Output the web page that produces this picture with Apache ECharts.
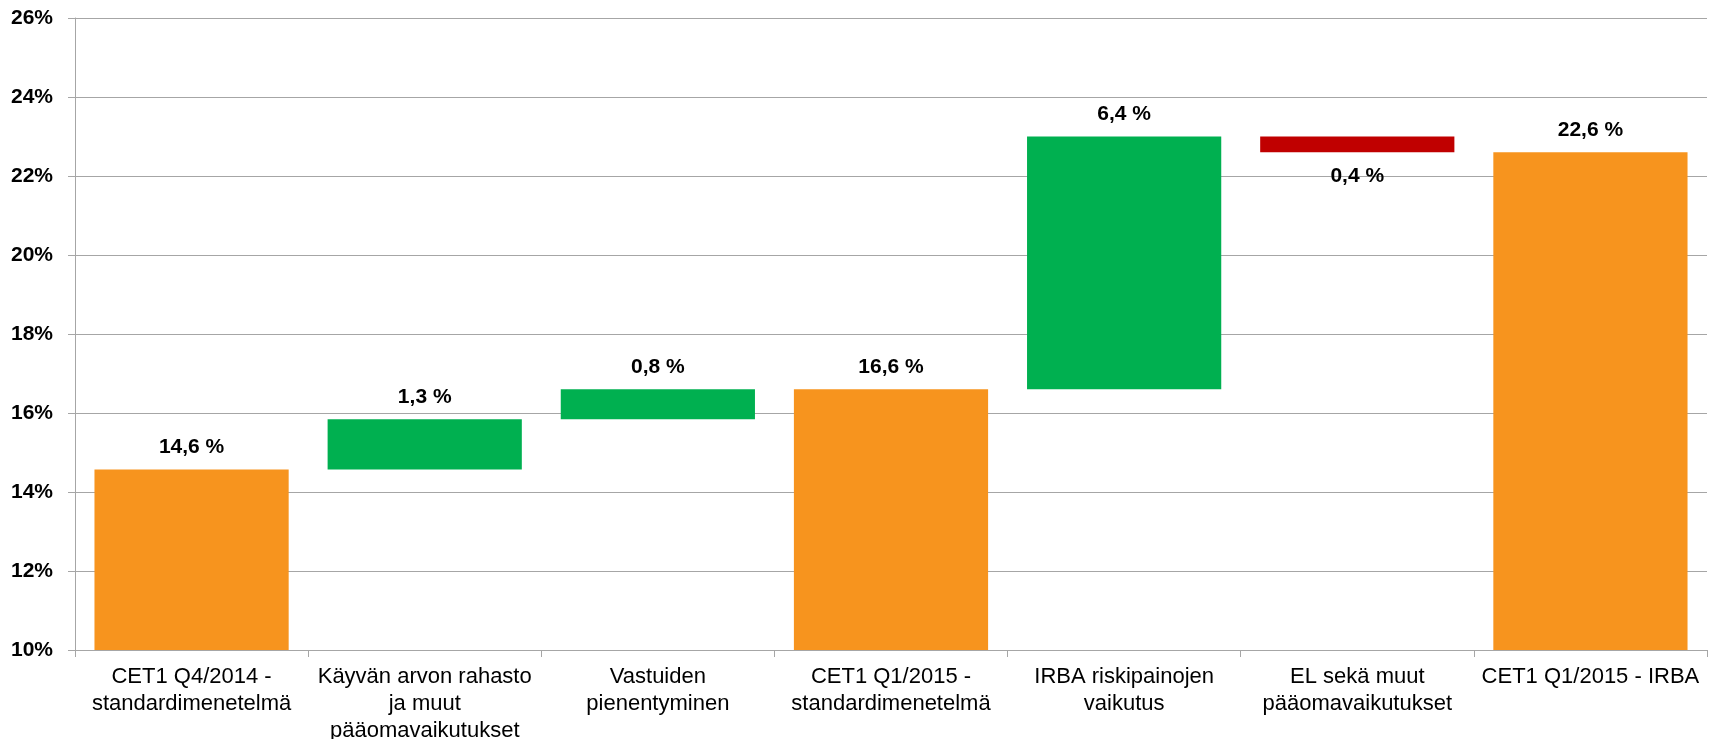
<!DOCTYPE html>
<html>
<head>
<meta charset="utf-8">
<script src="https://cdn.jsdelivr.net/npm/echarts@6/dist/echarts.min.js"></script>
<style>
  html, body { margin: 0; padding: 0; background: #fff; }
  #chart { width: 1713px; height: 739px; }
</style>
</head>
<body>
<div id="chart"></div>
<script>
const categories = [
  'CET1 Q4/2014 -\nstandardimenetelmä',
  'Käyvän arvon rahasto\nja muut\npääomavaikutukset',
  'Vastuiden\npienentyminen',
  'CET1 Q1/2015 -\nstandardimenetelmä',
  'IRBA riskipainojen\nvaikutus',
  'EL sekä muut\npääomavaikutukset',
  'CET1 Q1/2015 - IRBA'
]
// invisible offset under each bar, and the visible bar height
const bases = [0, 14.57, 15.84, 0, 16.6, 22.6, 0]
const heights = [14.57, 1.27, 0.76, 16.6, 6.4, 0.4, 22.6]
const colors = ['#F7941E', '#00B050', '#00B050', '#F7941E', '#00B050', '#C00000', '#F7941E']
const yTicks = { min: 10, max: 26, interval: 2 }

const chart = echarts.init(document.getElementById('chart'))
const font = 'Liberation Sans, Arial, sans-serif'

const option = {
  animation: false,
  grid: { left: 75, right: 6, top: 18, bottom: 89, outerBoundsMode: 'none' },
  xAxis: {
    type: 'category',
    data: categories,
    axisLine: { lineStyle: { color: '#A6A6A6', width: 1 } },
    axisTick: { show: true, length: 7, lineStyle: { color: '#A6A6A6' } },
    axisLabel: {
      interval: 0,
      margin: 13,
      color: '#000',
      fontFamily: font,
      fontSize: 22,
      lineHeight: 27
    }
  },
  yAxis: {
    type: 'value',
    min: yTicks.min,
    max: yTicks.max,
    interval: yTicks.interval,
    axisLine: { show: true, lineStyle: { color: '#A6A6A6' } },
    axisTick: { show: true, length: 7, lineStyle: { color: '#A6A6A6' } },
    splitLine: { lineStyle: { color: '#A6A6A6' } },
    axisLabel: {
      formatter: '{value}%',
      margin: 22,
      color: '#000',
      fontFamily: font,
      fontWeight: 'bold',
      fontSize: 21
    }
  },
  series: [
    {
      type: 'bar',
      stack: 'w',
      silent: true,
      itemStyle: { color: 'transparent' },
      data: bases
    },
    {
      type: 'bar',
      stack: 'w',
      barCategoryGap: '16.7%',
      data: heights.map((v, i) => ({
        value: v,
        itemStyle: { color: colors[i] },
        label: {
          position: colors[i] === '#C00000' ? 'bottom' : 'top',
          distance: colors[i] === '#C00000' ? 13 : 12
        }
      })),
      label: {
        show: true,
        color: '#000',
        fontFamily: font,
        fontWeight: 'bold',
        fontSize: 21,
        formatter: p => p.value.toFixed(1).replace('.', ',') + ' %'
      }
    }
  ]
}
chart.setOption(option)
</script>
</body>
</html>
